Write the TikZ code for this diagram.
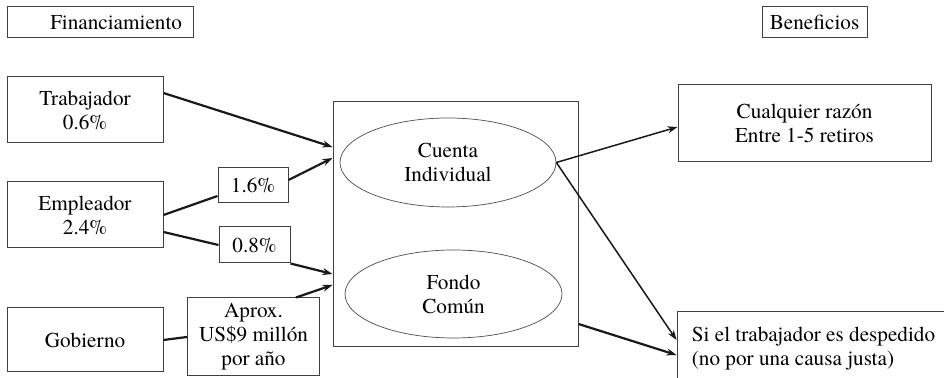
\documentclass[tikz,border=0pt]{standalone}
\usepackage{fontspec}
\setmainfont{TeX Gyre Termes}
\usetikzlibrary{arrows.meta,shapes.geometric}

\begin{document}
\begin{tikzpicture}[x=0.5pt, y=-0.5pt,
	box/.style={draw=black!75, line width=0.5pt, inner sep=0pt, align=center, font=\fontsize{10.6}{12}\selectfont},
	oval/.style={ellipse, draw=black!70, line width=0.35pt, inner sep=0pt, align=center, font=\fontsize{10.6}{12}\selectfont},
	link/.style={line width=1.1pt, black!90},
	flow/.style={link, -{Stealth[length=5pt, width=3.5pt]}},
	thinflow/.style={flow, line width=0.75pt}]
	\useasboundingbox (0,0) rectangle (944,378);
	% encabezados
	\node[box, text width=82pt, inner xsep=5.5pt, minimum height=15.5pt, align=right] (fin) at (100,22.5) {Financiamiento};
	\node[box, minimum width=52.5pt, minimum height=15.5pt] (ben) at (814.5,22.5) {Beneficios};
	% fuentes
	\node[box, minimum width=78pt, minimum height=33pt] (trab) at (85,110) {Trabajador\\0.6\%};
	\node[box, minimum width=78pt, minimum height=33pt] (emp) at (85,215) {Empleador\\2.4\%};
	\node[box, minimum width=78pt, minimum height=32pt] (gob) at (85,340) {Gobierno};
	\node[box, minimum width=35pt, minimum height=17.5pt] (p16) at (253,185.5) {1.6\%};
	\node[box, minimum width=35.5pt, minimum height=18pt] (p08) at (254.5,245) {0.8\%};
	\node[box, minimum width=66pt, minimum height=39pt] (aprox) at (253.5,337) {Aprox.\\US\$9 millón\\por año};
	% fondo
	\node[box, minimum width=122.5pt, minimum height=122.5pt] (fondo) at (455.5,224.5) {};
	\node[oval, minimum width=108pt, minimum height=44.5pt] (cuenta) at (448,162.5) {Cuenta\\Individual};
	\node[oval, minimum width=108.5pt, minimum height=44pt] (comun) at (453.5,294) {Fondo\\Común};
	% beneficios
	\node[box, minimum width=126.5pt, minimum height=38.5pt] (cual) at (804.5,123.5) {Cualquier razón\\Entre 1-5 retiros};
	\node[box, minimum width=136.5pt, minimum height=36.5pt, align=left] (si) at (813.5,348.5) {Si el trabajador es despedido\\(no por una causa justa)};
	% flechas
	\draw[flow] ([yshift=8.5pt]trab.east) -- ([yshift=38.75pt]fondo.west);
	\draw[link] (emp.east) -- ([yshift=-5.25pt]p16.west);
	\draw[flow] ([yshift=2.75pt]p16.east) -- ([yshift=33.25pt]fondo.west);
	\draw[link] ([yshift=-8.5pt]emp.east) -- (p08.west);
	\draw[flow] (p08.south east) -- ([yshift=-24.75pt]fondo.west);
	\draw[link] (gob.east) -- (aprox.west);
	\draw[flow] ([xshift=-12pt]aprox.north east) -- ([yshift=-30.25pt]fondo.west);
	\draw[thinflow] (cuenta.east) -- ([yshift=-1.75pt]cual.west);
	\draw[thinflow] (cuenta.east) -- ([yshift=4.25pt]si.west);
	\draw[flow] ([yshift=-49.75pt]fondo.east) -- ([yshift=-3.25pt]si.west);
\end{tikzpicture}
\end{document}
